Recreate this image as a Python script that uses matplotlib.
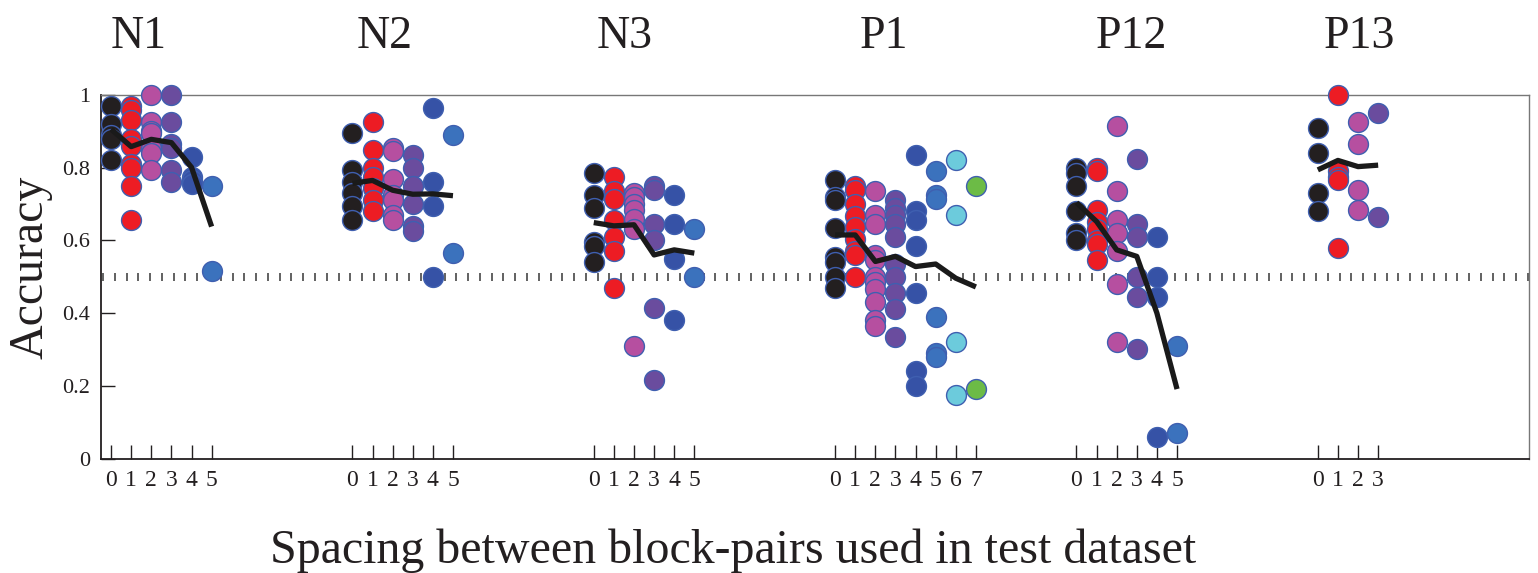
import matplotlib
matplotlib.use("Agg")
import matplotlib.pyplot as plt
import matplotlib.transforms as mtransforms
import numpy as np

plt.rcParams["font.family"] = ["Liberation Serif", "DejaVu Serif"]

# Nomes dos conjuntos de teste
groups = ["N1", "N2", "N3", "P1", "P12", "P13"]

# Acurácias por espaçamento (uma lista por espaçamento 0, 1, 2, ...)
n1_points = [
    [0.97, 0.92, 0.89, 0.88, 0.82],
    [0.97, 0.96, 0.93, 0.88, 0.86, 0.81, 0.80, 0.75, 0.655],
    [1.0, 0.925, 0.90, 0.895, 0.855, 0.84, 0.795],
    [1.0, 0.925, 0.865, 0.855, 0.795, 0.76],
    [0.83, 0.775, 0.765, 0.755],
    [0.75, 0.515],
]
n2_points = [
    [0.895, 0.795, 0.76, 0.73, 0.695, 0.655],
    [0.925, 0.85, 0.80, 0.775, 0.745, 0.71, 0.68],
    [0.855, 0.845, 0.77, 0.725, 0.71, 0.67, 0.655],
    [0.835, 0.80, 0.75, 0.70, 0.64, 0.625],
    [0.965, 0.76, 0.695, 0.50],
    [0.89, 0.565],
]
n3_points = [
    [0.785, 0.725, 0.69, 0.595, 0.585, 0.54],
    [0.775, 0.735, 0.715, 0.655, 0.61, 0.57, 0.47],
    [0.73, 0.72, 0.70, 0.685, 0.66, 0.63, 0.31],
    [0.75, 0.74, 0.645, 0.60, 0.415, 0.215],
    [0.725, 0.645, 0.55, 0.38],
    [0.63, 0.50],
]
p1_points = [
    [0.765, 0.72, 0.71, 0.635, 0.555, 0.54, 0.50, 0.47],
    [0.75, 0.74, 0.70, 0.668, 0.638, 0.605, 0.57, 0.56, 0.50],
    [0.735, 0.67, 0.645, 0.56, 0.545, 0.50, 0.485, 0.465, 0.43, 0.38, 0.365],
    [0.71, 0.69, 0.67, 0.645, 0.61, 0.535, 0.50, 0.455, 0.41, 0.335],
    [0.835, 0.68, 0.655, 0.585, 0.455, 0.24, 0.20],
    [0.79, 0.725, 0.715, 0.39, 0.29, 0.28],
    [0.82, 0.67, 0.32, 0.175],
    [0.75, 0.19],
]
p12_points = [
    [0.80, 0.785, 0.75, 0.68, 0.62, 0.60],
    [0.80, 0.79, 0.685, 0.65, 0.63, 0.60, 0.59, 0.545],
    [0.915, 0.735, 0.655, 0.62, 0.57, 0.48, 0.32],
    [0.825, 0.645, 0.61, 0.50, 0.445, 0.30],
    [0.61, 0.50, 0.445, 0.06],
    [0.31, 0.07],
]
p13_points = [
    [0.91, 0.84, 0.73, 0.68],
    [1.0, 0.79, 0.775, 0.765, 0.58],
    [0.925, 0.865, 0.74, 0.685],
    [0.95, 0.665],
]

# Médias (linha preta)
n1_mean = [0.906, 0.858, 0.878, 0.869, 0.801, 0.638]
n2_mean = [0.757, 0.765, 0.738, 0.727, 0.728, 0.723]
n3_mean = [0.649, 0.640, 0.643, 0.560, 0.574, 0.565]
p1_mean = [0.615, 0.615, 0.542, 0.556, 0.528, 0.535, 0.496, 0.472]
p12_mean = [0.704, 0.652, 0.574, 0.556, 0.400, 0.191]
p13_mean = [0.794, 0.820, 0.803, 0.807]

all_points = [n1_points, n2_points, n3_points, p1_points, p12_points, p13_points]
all_means = [n1_mean, n2_mean, n3_mean, p1_mean, p12_mean, p13_mean]

# Cor de cada espaçamento
spacing_colors = ["#231f20", "#ed1c24", "#b64fa0", "#6a4c9e", "#3652a6",
                  "#3b72bd", "#6ccbdc", "#6cbb46"]

chance = 0.5
group_step = 12
title_offset = [1.37, 1.62, 1.55, 2.42, 2.75, 2.08]
text_color = "#231f20"

fig = plt.figure(figsize=(15.38, 5.73), dpi=100)
ax = fig.add_axes([101 / 1538, 1 - 458.5 / 573, 1428 / 1538, 363.5 / 573])

# Linha de acaso (0.5)
xs = np.linspace(-0.4, 70.45, 122)
ax.plot(xs, np.full_like(xs, chance), linestyle="none", marker="|",
        markersize=5.5, markeredgewidth=1.3, color="#555555", zorder=1)

trans = mtransforms.blended_transform_factory(ax.transData, ax.transAxes)
ticks = []
labels = []
for g, (pts, mean) in enumerate(zip(all_points, all_means)):
    x0 = g * group_step
    for k, col in enumerate(pts):
        ax.scatter(np.full(len(col), x0 + k), col, s=205,
                   color=spacing_colors[k], edgecolors="#3f5fb0",
                   linewidths=1.0, zorder=3, clip_on=False)
        ticks.append(x0 + k)
        labels.append(str(k))
    ax.plot(x0 + np.arange(len(mean)), mean, color="#1a1a1a",
            linewidth=3.8, zorder=4, solid_capstyle="butt")

    ax.text(x0 + title_offset[g], 1.129, groups[g], transform=trans,
            ha="center", va="baseline", fontsize=33, color=text_color)

ax.set_xlim(-0.5, 70.5)
ax.set_ylim(0, 1)
ax.set_xticks(ticks)
ax.set_xticklabels(labels)
ax.set_yticks([0, 0.2, 0.4, 0.6, 0.8, 1.0])
ax.set_yticklabels(["0", "0.2", "0.4", "0.6", "0.8", "1"])
ax.tick_params(axis="x", direction="in", length=10, width=1.0,
               labelsize=17, pad=8, colors=text_color)
ax.tick_params(axis="y", direction="in", length=10, width=1.0,
               labelsize=16, pad=8, colors=text_color)

for side in ["left", "bottom"]:
    ax.spines[side].set_color("#231f20")
    ax.spines[side].set_linewidth(1.3)
for side in ["top", "right"]:
    ax.spines[side].set_color("#777777")
    ax.spines[side].set_linewidth(1.0)

fig.text(31 / 1538, 1 - 267 / 573, "Accuracy", rotation=90, ha="center",
         va="center", fontsize=34.5, color=text_color)
fig.text(733.5 / 1538, 1 - 563 / 573,
         "Spacing between block-pairs used in test dataset",
         ha="center", va="baseline", fontsize=34.5, color=text_color)

fig.savefig("out.png", dpi=100)
